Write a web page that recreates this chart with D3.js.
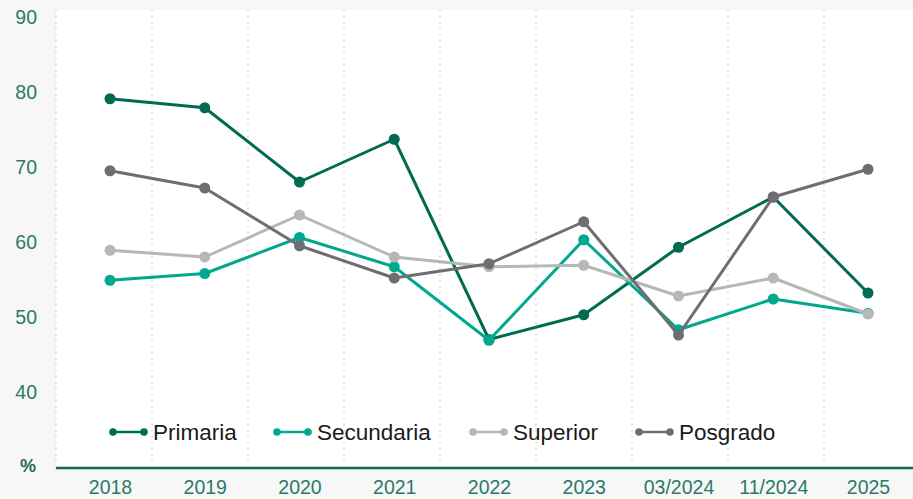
<!DOCTYPE html>
<html>
<head>
<meta charset="utf-8">
<script src="https://cdn.jsdelivr.net/npm/d3@7"></script>
<style>
  html, body { margin: 0; padding: 0; background: #f7f7f7; }
  svg { display: block; font-family: "Liberation Sans", Arial, sans-serif; }
</style>
</head>
<body>
<div id="chart"></div>
<script>
const categories = ["2018", "2019", "2020", "2021", "2022", "2023", "03/2024", "11/2024", "2025"];
const primaria   = [79.1, 77.9, 68.0, 73.7, 47.0, 50.3, 59.3, 66.0, 53.2];
const secundaria = [54.9, 55.8, 60.6, 56.7, 46.9, 60.3, 48.3, 52.4, 50.5];
const superior   = [58.9, 58.0, 63.6, 58.0, 56.7, 56.9, 52.8, 55.2, 50.4];
const posgrado   = [69.5, 67.2, 59.5, 55.2, 57.1, 62.7, 47.6, 66.0, 69.7];
const yTicks = [40, 50, 60, 70, 80, 90];

const series = [
    { name: "Primaria", values: primaria, color: "#006a52" },
    { name: "Secundaria", values: secundaria, color: "#00a88e" },
    { name: "Superior", values: superior, color: "#b7b7b7" },
    { name: "Posgrado", values: posgrado, color: "#6e6e72" }
];

const width = 913, height = 499;
const plot = { left: 56, right: 913, top: 10, bottom: 468 };

const svg = d3.select("#chart")
    .append("svg")
    .attr("width", width)
    .attr("height", height);

svg.append("rect")
    .attr("x", plot.left)
    .attr("y", plot.top)
    .attr("width", plot.right - plot.left)
    .attr("height", plot.bottom - plot.top)
    .attr("fill", "#ffffff");

const x = d3.scalePoint()
    .domain(categories)
    .range([110, 868]);

// bands only used for the dotted separators
const xBand = d3.scaleBand()
    .domain(categories)
    .range([plot.left, plot.left + 96 * categories.length])
    .padding(0);

const y = d3.scaleLinear()
    .domain([30, 90])
    .range([467, 17]);

svg.append("g")
    .selectAll("line")
    .data(categories)
    .join("line")
    .attr("x1", d => xBand(d))
    .attr("x2", d => xBand(d))
    .attr("y1", plot.top)
    .attr("y2", plot.bottom)
    .attr("stroke", "#c9c9c9")
    .attr("stroke-width", 1.3)
    .attr("stroke-dasharray", "1.5,4.5");

// y labels
svg.append("g")
    .selectAll("text")
    .data(yTicks)
    .join("text")
    .attr("x", 37)
    .attr("y", d => y(d))
    .attr("dy", "0.35em")
    .attr("text-anchor", "end")
    .attr("font-size", "19.5px")
    .attr("fill", "#2a7a68")
    .text(d => d);

svg.append("text")
    .attr("x", 28)
    .attr("y", 466)
    .attr("dy", "0.35em")
    .attr("text-anchor", "middle")
    .attr("font-size", "18px")
    .attr("font-weight", "bold")
    .attr("fill", "#1f6b58")
    .text("%");

// x axis
const xAxis = d3.axisBottom(x).tickSize(0).tickPadding(12);
const gx = svg.append("g")
    .attr("transform", `translate(0,${plot.bottom})`)
    .call(xAxis);
gx.select(".domain").remove();
gx.selectAll("text")
    .attr("font-size", "19.5px")
    .attr("font-family", "Liberation Sans, Arial, sans-serif")
    .attr("fill", "#2a7a68");

svg.append("line")
    .attr("x1", plot.left)
    .attr("x2", plot.right)
    .attr("y1", plot.bottom)
    .attr("y2", plot.bottom)
    .attr("stroke", "#0b6b55")
    .attr("stroke-width", 2.5);

// series
const line = d3.line()
    .x((d, i) => x(categories[i]))
    .y(d => y(d));

series.forEach(s => {
    const g = svg.append("g");
    g.append("path")
        .datum(s.values)
        .attr("d", line)
        .attr("fill", "none")
        .attr("stroke", s.color)
        .attr("stroke-width", 3)
        .attr("stroke-linejoin", "round");
    g.selectAll("circle")
        .data(s.values)
        .join("circle")
        .attr("cx", (d, i) => x(categories[i]))
        .attr("cy", d => y(d))
        .attr("r", 5.5)
        .attr("fill", s.color);
});

// legend
const legendX = [113, 277, 473, 639];
const legend = svg.append("g")
    .selectAll("g")
    .data(series)
    .join("g")
    .attr("transform", (d, i) => `translate(${legendX[i]},432)`);

legend.append("line")
    .attr("x1", 0).attr("x2", 31)
    .attr("stroke", d => d.color)
    .attr("stroke-width", 2.5);
legend.append("circle").attr("cx", 0).attr("r", 3.8).attr("fill", d => d.color);
legend.append("circle").attr("cx", 31).attr("r", 3.8).attr("fill", d => d.color);
legend.append("text")
    .attr("x", 40)
    .attr("dy", "0.35em")
    .attr("font-size", "22.5px")
    .attr("fill", "#1a1a1a")
    .text(d => d.name);
</script>
</body>
</html>
